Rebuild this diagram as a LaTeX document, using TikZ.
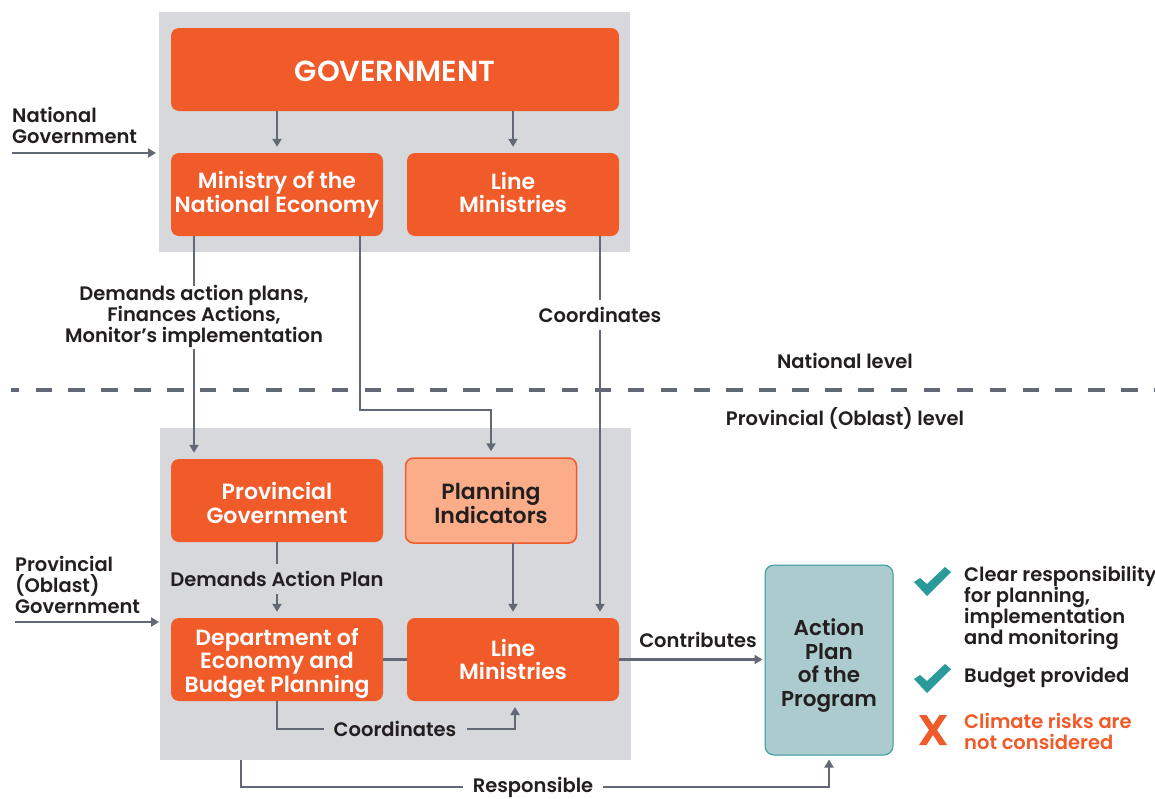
\documentclass[tikz,border=0pt]{standalone}
\usepackage{fontspec}
\setmainfont{Poppins SemiBold}
\usetikzlibrary{arrows.meta,positioning}
\definecolor{org}{HTML}{F15A29}
\definecolor{panel}{HTML}{D7D8DC}
\definecolor{wire}{HTML}{636876}
\definecolor{ink}{HTML}{231F20}
\definecolor{tealfill}{HTML}{ABCBCE}
\definecolor{tealline}{HTML}{2A9A9A}
\definecolor{peach}{HTML}{FBAD8A}
\newcommand\hh[1]{\rule{0pt}{#1pt}}
\newcommand\dd[1]{\rule[-#1pt]{0pt}{#1pt}}
\tikzset{
  x=1pt,y=-1pt,
  panelbox/.style={fill=panel,draw=none,anchor=north west,inner sep=0pt},
  orgbox/.style={fill=org,draw=none,rounded corners=8pt,text=white,align=center,inner sep=0pt,
    minimum width=212pt,minimum height=83pt,font=\fontsize{22}{23.5}\selectfont},
  peachbox/.style={fill=peach,draw=org,line width=1.5pt,rounded corners=8pt,text=ink,align=center,inner sep=0pt,
    minimum width=171pt,minimum height=85pt,font=\fontsize{22}{24}\selectfont},
  tealbox/.style={fill=tealfill,draw=tealline,line width=1pt,rounded corners=9pt,text=ink,align=center,inner sep=0pt,
    minimum width=128pt,minimum height=190pt,font=\fontsize{21.5}{23.5}\selectfont},
  lab/.style={text=ink,align=center,inner sep=0pt,font=\fontsize{19.5}{21}\selectfont},
  leftlab/.style={lab,align=left,anchor=west},
  wireline/.style={draw=wire,line width=2.2pt},
  arr/.style={wireline,-{Triangle[width=9pt,length=8pt]}},
}
\begin{document}
\begin{tikzpicture}
\useasboundingbox (0,0) rectangle (1155,798);
\fill[white] (0,0) rectangle (1155,798);
% panels
\node[panelbox,minimum width=471pt,minimum height=240pt] (pt) at (159,12) {};
\node[panelbox,minimum width=471pt,minimum height=332pt] (pb) at (160,428) {};
% boxes
\node[orgbox,minimum width=448pt,font=\fontsize{29}{30}\selectfont] (gov) at (395,69.5) {\hh{25}GOVERNMENT};
\node[orgbox] (mne) at (277,194.5) {\hh{18}Ministry of the\\National Economy};
\node[orgbox] (lm1) at (513,194.5) {Line\\Ministries\dd{4}};
\node[orgbox] (prov) at (277,500.5) {\hh{22}Provincial\\Government};
\node[peachbox] (pi) at (491,500.5) {\hh{22}Planning\\Indicators};
\node[orgbox] (dept) at (277,659.5) {\hh{24}Department of\\Economy and\\Budget Planning};
\node[orgbox] (lm2) at (513,659.5) {\hh{17}Line\\Ministries};
\node[tealbox] (ap) at (829,660) {\hh{28}Action\\Plan\\of the\\Program};
% labels
\node[leftlab] (ng) at (12,125.5) {National\\Government};
\node[leftlab] (pg) at (15,585) {Provincial\\(Oblast)\\Government};
\node[lab] (l1) at (194,316) {Demands action plans,\\Finances Actions,\\Monitor’s implementation};
\node[lab] (l2) at (600,315) {Coordinates};
\node[lab] (l3) at (277,579) {Demands Action Plan};
\node[lab] (l4) at (395,729) {Coordinates};
\node[lab] (l5) at (533,787) {Responsible};
\node[lab] (l6) at (698,640) {Contributes};
\node[lab] (nl) at (845,361) {National level};
\node[lab] (ol) at (845,418) {Provincial (Oblast) level};
% free ends
\coordinate (ng0) at (12,153);
\coordinate (ng1) at (156,153);
\coordinate (pg0) at (15,622);
\coordinate (pg1) at (159,622);
\coordinate (d0) at (11,390);
\coordinate (d1) at (1165,390);
\coordinate (rs) at (241,760);
% dashed level divider
\draw[wire,line width=4pt,dash pattern=on 16.4pt off 16.5pt,dash phase=8.4pt] (d0) -- (d1);
% connectors
\draw[arr] (ng0) -- (ng1);
\draw[arr] (pg0) -- (pg1);
\draw[arr,shorten >=6pt] (gov.south -| mne) -- (mne.north);
\draw[arr,shorten >=6pt] (gov.south -| lm1) -- (lm1.north);
\draw[wireline] (mne.south -| l1) -- ([yshift=-1pt]l1.north);
\draw[arr,shorten >=6pt] ([yshift=-2pt]l1.south) -- (l1 |- prov.north);
\draw[arr,shorten >=6pt] ([xshift=83pt]mne.south) |- (360,410) -| (pi.north);
\draw[wireline] (lm1.south -| l2) -- ([yshift=7pt]l2.north);
\draw[arr,shorten >=6pt] ([yshift=-7pt]l2.south) -- (l2 |- lm2.north);
\draw[wireline] (prov.south) -- ([yshift=7pt]l3.north);
\draw[arr,shorten >=6pt] ([yshift=-7pt]l3.south) -- (dept.north);
\draw[arr,shorten >=6pt] (513,543) -- (lm2.north);
\draw[wireline] (dept.east) -- (lm2.west);
\draw[wireline] (dept.south) |- ([xshift=-9pt]l4.west);
\draw[arr,shorten >=6pt] ([xshift=10pt]l4.east) -| (515,701);
\draw[arr,shorten >=2pt] (lm2.east) -- (lm2.east -| ap.west);
\draw[wireline] (rs) |- ([xshift=-10pt]l5.west);
\draw[arr,shorten >=4pt] ([xshift=10pt]l5.east) -| (ap.south);
% outcome list
\foreach \dy in {0,97}{
  \fill[tealline,yshift=-\dy pt] (914,582) -- (920,578) -- (927,584) -- (945,567) -- (951,572) -- (927,596) -- cycle;
}
\fill[org] (919,715) -- (926.5,715) -- (933,725) -- (939.5,715) -- (947,715) -- (937,730) -- (947,745) -- (939.5,745) -- (933,735) -- (926.5,745) -- (919,745) -- (929,730) -- cycle;
\node[leftlab] (r1) at (964,608) {Clear responsibility\\for planning,\\implementation\\and monitoring};
\node[leftlab] (r2) at (964,678) {Budget provided};
\node[leftlab,text=org] (r3) at (964,731.5) {Climate risks are\\not considered};
\end{tikzpicture}
\end{document}
